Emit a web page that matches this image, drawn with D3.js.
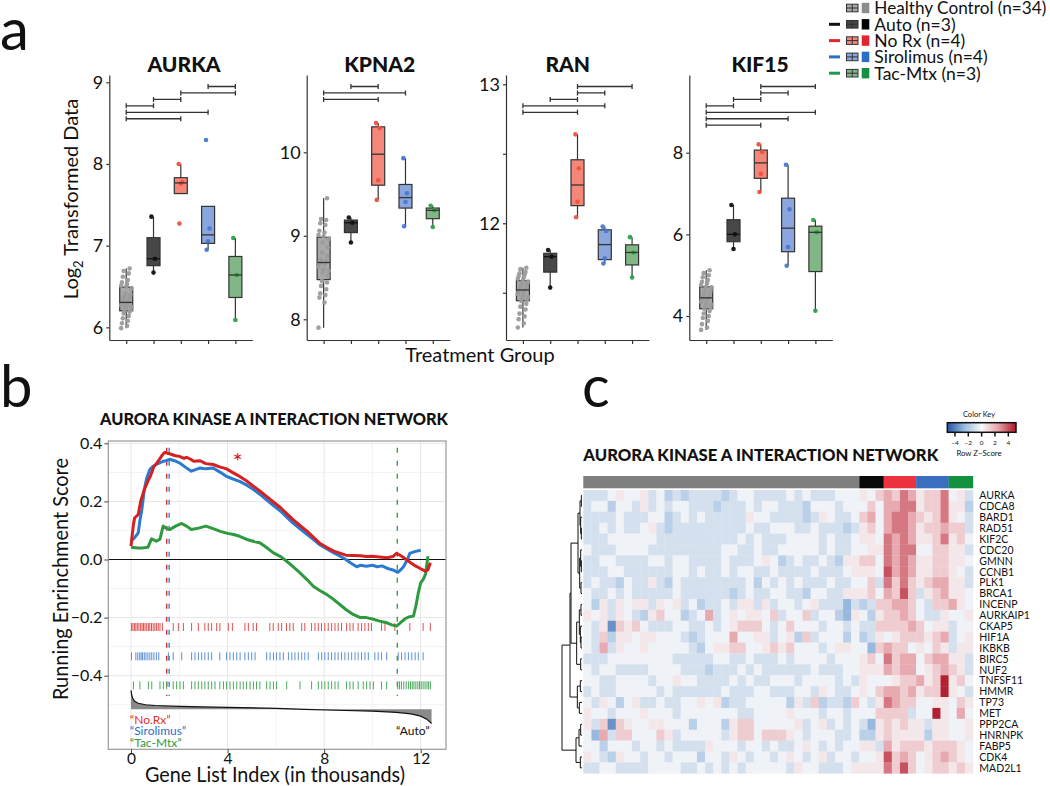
<!DOCTYPE html>
<html><head><meta charset="utf-8">
<script src="https://cdn.jsdelivr.net/npm/d3@7"></script>
<style>
body{margin:0;background:#fff}
svg{display:block}
text{font-family:Lato,"Open Sans",sans-serif;fill:#111}
</style>
</head><body>
<svg id="chart" width="1050" height="786"></svg>
<script>
// ================= DATA =================
const groups = ["Healthy Control", "Auto", "No Rx", "Sirolimus", "Tac-Mtx"];
const groupN = [34, 3, 4, 4, 3];
const genes = ["AURKA", "KPNA2", "RAN", "KIF15"];

// Panel a: log2 values per group [HC, Auto, NoRx, Sirolimus, Tac-Mtx]
const aurkaValues = [
  [5.99,6.02,6.05,6.08,6.11,6.14,6.17,6.19,6.20,6.21,6.23,6.25,6.26,6.27,6.28,6.29,6.30,6.31,6.33,6.35,6.37,6.38,6.40,6.42,6.47,6.50,6.51,6.53,6.55,6.58,6.62,6.66,6.69,6.72],
  [7.355,6.84,6.67],
  [8.0,7.776,7.76,7.27],
  [8.294,7.21,7.054,6.95],
  [7.094,6.641,6.09]
];
const kpna2Values = [
  [7.90,8.20,8.26,8.29,8.31,8.36,8.40,8.44,8.46,8.52,8.56,8.58,8.60,8.63,8.66,8.67,8.68,8.68,8.70,8.72,8.76,8.80,8.86,8.92,8.96,8.99,9.01,9.04,9.06,9.13,9.15,9.19,9.20,9.45],
  [9.22,9.157,8.92],
  [10.35,10.29,9.665,9.43],
  [9.93,9.51,9.405,9.114],
  [9.36,9.305,9.105]
];
const ranValues = [
  [11.25,11.28,11.31,11.33,11.35,11.38,11.40,11.42,11.44,11.45,11.46,11.47,11.48,11.49,11.50,11.51,11.52,11.52,11.53,11.54,11.55,11.56,11.57,11.57,11.58,11.59,11.60,11.61,11.62,11.63,11.64,11.65,11.67,11.68],
  [11.808,11.76,11.537],
  [12.64,12.396,12.155,12.043],
  [11.976,11.945,11.748,11.71],
  [11.9,11.79,11.61]
];
const kif15Values = [
  [3.66,3.72,3.80,3.88,3.95,4.00,4.06,4.12,4.17,4.20,4.24,4.28,4.31,4.35,4.39,4.42,4.44,4.45,4.48,4.51,4.55,4.58,4.62,4.66,4.70,4.72,4.76,4.80,4.84,4.88,4.95,5.00,5.05,5.12],
  [6.718,6.0,5.64],
  [8.205,8.017,7.485,7.037],
  [7.706,6.613,5.69,5.23],
  [6.35,6.05,4.127]
];
// significance brackets (group index pairs, listed top to bottom)
const aurkaBrackets = [[3,4],[2,4],[1,2],[0,1],[0,3],[0,2]];
const kpna2Brackets = [[1,2],[0,3],[0,2]];
const ranBrackets = [[2,4],[2,3],[1,2],[0,3],[0,2]];
const kif15Brackets = [[2,4],[2,3],[1,2],[0,1],[0,4],[0,3],[0,2]];
// y tick values
const aurkaTicks = [6,7,8,9];
const kpna2Ticks = [8,9,10];
const ranTicks = [11.5,12,12.5,13];
const kif15Ticks = [4,6,8];
// y axis limits
const aurkaLimits = [5.845, 9.089];
const kpna2Limits = [7.752, 10.926];
const ranLimits = [11.160, 13.067];
const kif15Limits = [3.412, 9.904];

// Panel b: running enrichment score curves [gene index (thousands), ES]
const esNoRx = [[0,0.046],[0.1,0.12],[0.15,0.143],[0.3,0.155],[0.4,0.2],[0.55,0.24],[0.7,0.27],[0.8,0.286],[0.95,0.32],[1.05,0.33],[1.17,0.344],[1.3,0.36],[1.4,0.369],[1.5,0.366],[1.6,0.364],[1.8,0.358],[2.0,0.355],[2.2,0.348],[2.3,0.352],[2.45,0.346],[2.6,0.338],[2.86,0.34],[3.1,0.33],[3.4,0.327],[3.7,0.318],[3.96,0.312],[4.2,0.3],[4.5,0.286],[4.8,0.27],[5.07,0.252],[5.35,0.235],[5.6,0.218],[5.9,0.198],[6.2,0.178],[6.45,0.158],[6.7,0.138],[7.0,0.117],[7.3,0.097],[7.55,0.077],[7.8,0.057],[8.1,0.042],[8.4,0.029],[8.65,0.022],[8.9,0.015],[9.2,0.014],[9.5,0.013],[9.75,0.01],[10.0,0.011],[10.3,0.009],[10.6,0.006],[10.85,0.01],[11.0,0.021],[11.2,0.012],[11.4,0.0],[11.6,-0.012],[11.8,-0.023],[12.0,-0.032],[12.2,-0.04],[12.3,-0.035],[12.4,-0.011]];
const esSirolimus = [[0,0.063],[0.15,0.075],[0.3,0.092],[0.38,0.14],[0.45,0.172],[0.55,0.24],[0.65,0.28],[0.78,0.31],[0.9,0.32],[1.05,0.327],[1.2,0.333],[1.33,0.338],[1.45,0.34],[1.6,0.345],[1.8,0.34],[2.0,0.333],[2.25,0.318],[2.5,0.304],[2.7,0.31],[2.86,0.315],[3.1,0.312],[3.4,0.315],[3.7,0.3],[3.96,0.286],[4.2,0.278],[4.5,0.269],[4.8,0.256],[5.07,0.241],[5.35,0.224],[5.6,0.206],[5.9,0.186],[6.2,0.166],[6.45,0.146],[6.7,0.126],[7.0,0.106],[7.3,0.086],[7.55,0.069],[7.8,0.052],[8.1,0.037],[8.4,0.023],[8.65,0.012],[8.9,0.0],[9.1,-0.012],[9.35,-0.025],[9.5,-0.02],[9.75,-0.023],[10.0,-0.02],[10.2,-0.025],[10.4,-0.022],[10.6,-0.03],[10.85,-0.036],[11.05,-0.044],[11.2,-0.033],[11.3,-0.023],[11.45,0.0],[11.55,0.021],[11.75,0.027],[12.0,0.032]];
const esTacMtx = [[0,0.042],[0.3,0.04],[0.5,0.04],[0.7,0.042],[0.85,0.071],[1.05,0.063],[1.2,0.07],[1.33,0.115],[1.45,0.108],[1.6,0.103],[1.85,0.115],[2.1,0.124],[2.3,0.115],[2.5,0.103],[2.8,0.108],[3.1,0.115],[3.4,0.106],[3.7,0.097],[4.0,0.09],[4.25,0.086],[4.5,0.08],[4.8,0.069],[5.1,0.062],[5.35,0.057],[5.6,0.042],[5.9,0.023],[6.2,0.01],[6.45,-0.006],[6.7,-0.024],[7.0,-0.046],[7.3,-0.07],[7.55,-0.092],[7.8,-0.106],[8.1,-0.12],[8.4,-0.138],[8.65,-0.155],[8.9,-0.172],[9.2,-0.189],[9.5,-0.2],[9.75,-0.2],[10.0,-0.205],[10.3,-0.212],[10.6,-0.218],[10.8,-0.225],[11.0,-0.229],[11.2,-0.215],[11.35,-0.204],[11.5,-0.198],[11.7,-0.195],[11.8,-0.16],[11.9,-0.115],[12.0,-0.08],[12.1,-0.069],[12.2,-0.05],[12.3,0.011]];
// leading-edge / peak positions (thousands)
const peakNoRx = 1.48, peakSirolimus = 1.58, peakTacMtx = 11.03;
// gene-set hit positions (thousands)
const hitsNoRx = [0.02,0.08,0.14,0.2,0.26,0.33,0.4,0.46,0.52,0.58,0.65,0.72,0.78,0.85,0.92,0.99,1.06,1.13,1.2,1.3,1.75,1.96,2.17,2.51,2.79,3.06,3.2,3.34,3.55,3.68,4.03,4.2,4.72,4.86,5.06,5.2,5.75,5.89,6.1,6.24,6.44,6.58,6.72,7.07,7.2,7.48,7.62,7.76,7.89,8.03,8.17,8.31,8.45,8.58,8.72,8.93,9.07,9.2,9.41,9.55,9.69,9.83,9.96,10.38,10.52,10.93,11.55,12.1,12.4];
const hitsSirolimus = [0.02,0.2,0.28,0.36,0.42,0.48,0.55,0.62,0.7,0.78,0.86,0.95,1.05,1.15,1.55,1.75,2.1,2.51,2.65,2.79,2.93,3.06,3.2,3.34,3.68,3.96,4.1,4.24,4.38,4.52,4.72,4.86,5.0,5.14,5.62,5.76,5.9,6.03,6.17,6.31,6.52,6.66,6.79,6.93,7.07,7.2,7.34,7.76,7.9,8.03,8.17,8.31,8.45,8.58,8.72,8.86,9.0,9.14,9.28,9.41,9.55,9.69,9.83,10.1,10.24,10.38,10.59,11.07,11.21,11.35,11.49,11.63,11.77,11.9,12.1];
const hitsTacMtx = [0.1,0.37,0.72,0.86,1.2,1.34,1.48,1.75,1.89,2.03,2.17,2.51,2.65,2.79,2.93,3.06,3.2,3.34,3.48,3.68,3.83,3.96,4.1,4.24,4.38,4.52,4.65,4.79,4.93,5.07,5.2,5.34,5.62,5.76,5.9,6.03,6.45,7.0,7.48,7.76,7.9,8.03,8.17,8.31,8.45,8.58,8.93,9.07,9.2,9.41,9.62,9.76,9.9,10.04,10.38,10.59,11.05,11.12,11.2,11.3,11.4,11.5,11.58,11.65,11.72,11.8,11.88,11.95,12.02,12.1,12.18,12.26,12.33,12.4];
// ranked list metric (relative units)
const rankedMetric = [[0,1.0],[0.03,0.75],[0.08,0.55],[0.15,0.42],[0.3,0.32],[0.6,0.24],[1,0.2],[2,0.15],[4,0.1],[6,0.05],[7.2,0.0],[8.5,-0.05],[10,-0.1],[11,-0.16],[11.6,-0.24],[12,-0.36],[12.25,-0.52],[12.45,-0.75]];
const esTicks = [-0.4,-0.2,0,0.2,0.4];
const indexTicks = [0,4,8,12];

// Panel c: heatmap, row z-scores coded as levels (0..9, X), columns = 34 HC | 3 Auto | 4 NoRx | 4 Sirolimus | 3 Tac-Mtx
const heatGenes = ["AURKA","CDCA8","BARD1","RAD51","KIF2C","CDC20","GMNN","CCNB1","PLK1","BRCA1","INCENP","AURKAIP1","CKAP5","HIF1A","IKBKB","BIRC5","NUF2","TNFSF11","HMMR","TP73","MET","PPP2CA","HNRNPK","FABP5","CDK4","MAD2L1"];
const zLevels = {"0":-3.6,"1":-2.6,"2":-1.7,"3":-1.0,"4":-0.25,"5":0.5,"6":1.3,"7":2.3,"8":3.3,"9":4.0,"X":4.9};
const heatRows = [
 "3334544534 2323333234 4333343433 3444|546|7687|5668|453",
 "3442443534 3443332333 4344333244 4344|464|7788|5668|552",
 "3333433344 2343433333 5443333235 4334|674|7887|6568|543",
 "3343433453 2333333333 4334443343 3323|564|7887|5667|663",
 "3334444443 3333333334 3433344443 4334|554|8787|5568|564",
 "4333444433 3333333443 3433444443 4334|455|8788|4466|553",
 "3344333344 3443333433 3454234334 3255|664|8787|5566|554",
 "3334433333 3443433434 4334333343 3345|554|9787|5566|543",
 "3433243353 2433333333 4243434333 4334|463|8686|5677|553",
 "4334343333 3433333323 4334433244 3355|564|7696|3567|554",
 "4253545535 4534233435 5353443453 3313|236|6776|4366|754",
 "5453543256 4423473454 5546344634 4215|425|6676|4335|445",
 "4350656433 3443343456 6643464443 4434|336|6667|6455|344",
 "4362554554 4432344474 4553452634 4424|235|4566|6567|345",
 "4373544544 4443245566 4456564443 4554|416|7664|5465|355",
 "3334444444 4333334433 4333434444 3444|564|8677|4677|553",
 "4344333344 4433323334 3433333343 3344|555|7677|4567|653",
 "4433444434 4544333343 4334443444 4343|544|4566|756X|564",
 "3433444443 4333333433 3443334435 4334|546|7767|566X|543",
 "4354245334 3344545233 4444425362 3326|435|8766|4455|465",
 "5443444544 4344444443 3444454443 4434|446|6663|44X5|474",
 "5360654455 4442444256 6444445345 3434|315|6565|5355|445",
 "4173664446 5344444356 6466654344 4334|225|6555|5255|445",
 "4424443443 4333354443 4434334543 4344|553|7566|6566|654",
 "5432544344 3444244354 3443454345 3443|445|9676|4567|654",
 "3344333344 4433434343 4444435443 3345|555|8696|4566|565"
];
// row dendrogram: [height, left, right], leaves = row index
const rowTree = [6.0,
  [3.6,
    [3.3,
      [1.2, [0.6,[0.2,0,1],[0.4,2,[0.2,3,4]]], [0.7,[0.4,5,[0.2,6,7]],[0.3,8,9]]],
      [1.6, [0.8,[0.3,10,11],[0.5,12,[0.3,13,14]]], [0.4,15,16]]],
    [1.4, [0.5,17,18], [0.8,19,20]]],
  [1.8, [0.9,[0.4,21,22],23], [0.5,24,25]]];
const keyTicks = [-4,-2,0,2,4];

// ================= STYLE / LAYOUT =================
const boxFill = ["#a9a9a9","#474747","#f4867a","#8aa6dd","#80b784"];
const pointCol = ["#9b9b9b","#111111","#f0503f","#4a78d0","#2f9f49"];
const legendLine = [null,"#111111","#e02a2a","#2a72c8","#1f9a4a"];
const legendSquare = ["#8c8c8c","#000000","#e32530","#2a6fc6","#159040"];
const barColors = ["#7f7f7f","#0a0a0a","#ee3340","#3a6fc0","#14913e"];

const svg = d3.select("#chart");

// ---------- Panel labels ----------
svg.append("text").attr("x",0).attr("y",50).attr("font-size",58).text("a");
svg.append("text").attr("x",0).attr("y",407).attr("font-size",58).text("b");
svg.append("text").attr("x",582).attr("y",407).attr("font-size",58).text("c");

// ---------- Panel a ----------
const aLayout = [
  {left:109.3, titleX:184},
  {left:306.7, titleX:379.7},
  {left:506, titleX:567.7},
  {left:689.3, titleX:760}
];
const allValues = [aurkaValues,kpna2Values,ranValues,kif15Values];
const allBrackets = [aurkaBrackets,kpna2Brackets,ranBrackets,kif15Brackets];
const allTicks = [aurkaTicks,kpna2Ticks,ranTicks,kif15Ticks];
const allLimits = [aurkaLimits,kpna2Limits,ranLimits,kif15Limits];
const aBottom = 340, aTop = 75, aWidth = 143;

genes.forEach((gene, gi) => {
  const L = aLayout[gi].left;
  const x = d3.scalePoint().domain(d3.range(groups.length)).range([L, L + aWidth]).padding(0.62);
  const y = d3.scaleLinear().domain(allLimits[gi]).range([aBottom, aTop]);
  const g = svg.append("g");

  g.append("text").attr("x", aLayout[gi].titleX).attr("y", 71.5).attr("text-anchor","middle")
    .attr("font-size",21).attr("font-weight",900).text(gene);

  const yAx = g.append("g").attr("transform",`translate(${L},0)`)
    .call(d3.axisLeft(y).tickValues(allTicks[gi]).tickSize(3).tickSizeOuter(0).tickPadding(3)
      .tickFormat(d => Number.isInteger(d) ? d : ""));
  yAx.selectAll("text").attr("font-size",18).attr("font-family","Lato, sans-serif").attr("fill","#111");
  yAx.selectAll("line,path").attr("stroke","#333").attr("stroke-width",1.2);

  const xAx = g.append("g").attr("transform",`translate(0,${aBottom})`)
    .call(d3.axisBottom(x).tickSize(4).tickSizeOuter(0).tickFormat(""));
  xAx.selectAll("line,path").attr("stroke","#333").attr("stroke-width",1.2);

  allValues[gi].forEach((vals, k) => {
    const s = vals.slice().sort(d3.ascending);
    const q1 = d3.quantile(s,0.25), md = d3.quantile(s,0.5), q3 = d3.quantile(s,0.75), iqr = q3 - q1;
    const lo = d3.min(s.filter(v => v >= q1 - 1.5*iqr));
    const hi = d3.max(s.filter(v => v <= q3 + 1.5*iqr));
    const cx = x(k), bw = 13;
    const wcol = "#333";
    if (hi > q3) g.append("line").attr("x1",cx).attr("x2",cx).attr("y1",y(hi)).attr("y2",y(q3)).attr("stroke",wcol).attr("stroke-width",1.2);
    if (lo < q1) g.append("line").attr("x1",cx).attr("x2",cx).attr("y1",y(q1)).attr("y2",y(lo)).attr("stroke",wcol).attr("stroke-width",1.2);
    g.append("rect").attr("x",cx-bw/2).attr("y",y(q3)).attr("width",bw).attr("height",y(q1)-y(q3))
      .attr("fill",boxFill[k]).attr("stroke","#333").attr("stroke-width",1.2);
    const n = vals.length;
    g.selectAll(null).data(vals).join("circle")
      .attr("cx",(d,i) => cx + (n > 10 ? (((i*7)%13) - 6)*0.85 : (((i*5)%7) - 3)*0.7))
      .attr("cy",d => y(d)).attr("r",2.3).attr("fill",pointCol[k]).attr("opacity",0.95);
    g.append("line").attr("x1",cx-bw/2).attr("x2",cx+bw/2).attr("y1",y(md)).attr("y2",y(md))
      .attr("stroke",k===1?"#111":"#333").attr("stroke-width",1.3);
  });

  allBrackets[gi].forEach((b, j) => {
    const yb = 86.5 + j*6.45;
    const x1 = x(b[0]), x2 = x(b[1]);
    g.append("path").attr("d",`M${x1},${yb-2.5}V${yb+2.5}M${x1},${yb}H${x2}M${x2},${yb-2.5}V${yb+2.5}`)
      .attr("stroke","#333").attr("stroke-width",1.3).attr("fill","none");
  });
});

// y label with subscript
const ylab = svg.append("text").attr("transform","translate(78,199) rotate(-90)").attr("text-anchor","middle").attr("font-size",20);
ylab.append("tspan").text("Log");
ylab.append("tspan").attr("font-size",13).attr("dy",5).text("2");
ylab.append("tspan").attr("dy",-5).text(" Transformed Data");
svg.append("text").attr("x",480).attr("y",362).attr("text-anchor","middle").attr("font-size",20).text("Treatment Group");

// legend
const leg = svg.append("g");
groups.forEach((gname,i) => {
  const cy = 8 + i*16.3;
  if (legendLine[i]) leg.append("line").attr("x1",829).attr("x2",840).attr("y1",cy).attr("y2",cy).attr("stroke",legendLine[i]).attr("stroke-width",3);
  leg.append("rect").attr("x",846.5).attr("y",cy-3.8).attr("width",11.5).attr("height",7.6).attr("fill",boxFill[i]).attr("stroke","#333").attr("stroke-width",1);
  leg.append("path").attr("d",`M846.5,${cy}H858M852.25,${cy-3.8}V${cy+3.8}`).attr("stroke","#333").attr("stroke-width",1);
  leg.append("rect").attr("x",861.7).attr("y",cy-5.2).attr("width",7.6).attr("height",10.4).attr("fill",legendSquare[i]);
  const t = leg.append("text").attr("x",874.3).attr("y",cy).attr("dy","0.36em").attr("font-size",17.5).text(`${gname} (n=${groupN[i]})`);
  if (i === 0) t.attr("textLength",172).attr("lengthAdjust","spacingAndGlyphs");
});

// ---------- Panel b ----------
const bx = d3.scaleLinear().domain([0,12]).range([131,420.7]);
const by = d3.scaleLinear().domain([-0.4,0.4]).range([675.7,443.3]);
const pb = {x0:108.3, x1:446, y0:441, y1:749.3};
const gb = svg.append("g");
gb.append("text").attr("x",274).attr("y",425).attr("text-anchor","middle").attr("font-size",16).attr("font-weight",900)
  .attr("textLength",348).attr("lengthAdjust","spacingAndGlyphs").text("AURORA KINASE A INTERACTION NETWORK");
// grid
[2,6,10].forEach(v => gb.append("line").attr("x1",bx(v)).attr("x2",bx(v)).attr("y1",pb.y0).attr("y2",pb.y1).attr("stroke","#f3f3f3"));
[-0.5,-0.3,-0.1,0.1,0.3].forEach(v => gb.append("line").attr("x1",pb.x0).attr("x2",pb.x1).attr("y1",by(v)).attr("y2",by(v)).attr("stroke","#f3f3f3"));
indexTicks.forEach(v => gb.append("line").attr("x1",bx(v)).attr("x2",bx(v)).attr("y1",pb.y0).attr("y2",pb.y1).attr("stroke","#e6e6e6"));
esTicks.forEach(v => gb.append("line").attr("x1",pb.x0).attr("x2",pb.x1).attr("y1",by(v)).attr("y2",by(v)).attr("stroke","#e6e6e6"));
gb.append("line").attr("x1",pb.x0).attr("x2",pb.x1).attr("y1",by(0)).attr("y2",by(0)).attr("stroke","#111").attr("stroke-width",1.2);

// dashed peaks
[[peakNoRx,"#d62020"],[peakSirolimus,"#2a7ad0"],[peakTacMtx,"#2e9a40"]].forEach(([v,c]) => {
  gb.append("line").attr("x1",bx(v)).attr("x2",bx(v)).attr("y1",by(0.385)).attr("y2",by(-0.47))
    .attr("stroke",c).attr("stroke-width",1.3).attr("stroke-dasharray","5,8");
});
// hits
[[hitsNoRx,"#e05050",627],[hitsSirolimus,"#5a8fd8",656.3],[hitsTacMtx,"#4aaa5c",685.3]].forEach(([arr,c,yc]) => {
  gb.selectAll(null).data(arr).join("line").attr("x1",d=>bx(d)).attr("x2",d=>bx(d))
    .attr("y1",yc-4).attr("y2",yc+4).attr("stroke",c).attr("stroke-width",1);
});
// ranked metric
const mY = d3.scaleLinear().domain([-1,1]).range([728.3,690.3]);
gb.append("path").datum(rankedMetric)
  .attr("d",d3.area().x(d=>bx(d[0])).y0(mY(0)).y1(d=>mY(d[1])))
  .attr("fill","#8a8a8a");
gb.append("path").datum(rankedMetric)
  .attr("d",d3.line().x(d=>bx(d[0])).y(d=>mY(d[1])))
  .attr("fill","none").attr("stroke","#111").attr("stroke-width",1.2);
// ES curves
const esLine = d3.line().x(d=>bx(d[0])).y(d=>by(d[1]));
[[esTacMtx,"#2e9a40"],[esSirolimus,"#2a7ad0"],[esNoRx,"#d62020"]].forEach(([arr,c]) => {
  gb.append("path").datum(arr).attr("d",esLine).attr("fill","none").attr("stroke",c).attr("stroke-width",3).attr("stroke-linejoin","round");
});
gb.append("text").attr("x",237.7).attr("y",470).attr("text-anchor","middle").attr("font-size",24).style("fill","#d62020").text("*");
// border
gb.append("rect").attr("x",pb.x0).attr("y",pb.y0).attr("width",pb.x1-pb.x0).attr("height",pb.y1-pb.y0)
  .attr("fill","none").attr("stroke","#999").attr("stroke-width",1.2);
// axes
const byAx = gb.append("g").attr("transform",`translate(${pb.x0},0)`)
  .call(d3.axisLeft(by).tickValues(esTicks).tickSize(4).tickPadding(2).tickFormat(d3.format(".1f")));
byAx.select(".domain").remove();
byAx.selectAll("text").attr("font-size",16).attr("font-family","Lato, sans-serif").attr("fill","#111");
byAx.selectAll("line").attr("stroke","#444");
const bxAx = gb.append("g").attr("transform",`translate(0,${pb.y1})`)
  .call(d3.axisBottom(bx).tickValues(indexTicks).tickSize(4).tickPadding(0));
bxAx.select(".domain").remove();
bxAx.selectAll("text").attr("font-size",15.5).attr("font-family","Lato, sans-serif").attr("fill","#111");
bxAx.selectAll("line").attr("stroke","#444");
// labels in panel
gb.append("text").attr("x",bx(-0.05)).attr("y",723.5).attr("font-size",12).style("fill","#e0302a").text("\u201CNo.Rx\u201D");
gb.append("text").attr("x",bx(-0.05)).attr("y",735.3).attr("font-size",12).style("fill","#2a6fc9").text("\u201CSirolimus\u201D");
gb.append("text").attr("x",bx(-0.05)).attr("y",747).attr("font-size",12).style("fill","#2e9a40").text("\u201CTac-Mtx\u201D");
gb.append("text").attr("x",bx(12.37)).attr("y",735.3).attr("text-anchor","end").attr("font-size",12).text("\u201CAuto\u201D");
// axis titles
gb.append("text").attr("transform","translate(68,579) rotate(-90)").attr("text-anchor","middle").attr("font-size",22)
  .attr("textLength",242).attr("lengthAdjust","spacingAndGlyphs").text("Running Enrinchment Score");
gb.append("text").attr("x",275).attr("y",782).attr("text-anchor","middle").attr("font-size",20.5)
  .attr("textLength",260).attr("lengthAdjust","spacingAndGlyphs").text("Gene List Index (in thousands)");

// ---------- Panel c ----------
const gc = svg.append("g");
const hx0 = 583.3, hx1 = 973, hy0 = 490, hy1 = 773.3;
const nCols = d3.sum(groupN);
const cx = d3.scaleBand().domain(d3.range(nCols)).range([hx0,hx1]);
const ry = d3.scaleBand().domain(d3.range(heatGenes.length)).range([hy0,hy1]);
const colorZ = d3.scaleLinear().domain([-5,-2.5,0,2.5,5]).range(["#2a5aa8","#9dbde0","#f8f8f8","#e6a3ab","#b01c2c"]).clamp(true);
const cells = [];
heatRows.forEach((str, r) => {
  const codes = str.replace(/[ |]/g,"").split("");
  codes.slice(0,nCols).forEach((ch, c) => cells.push({r, c, z: zLevels[ch]}));
});
gc.selectAll("rect.cell").data(cells).join("rect").attr("class","cell")
  .attr("x",d=>cx(d.c)).attr("y",d=>ry(d.r)).attr("width",cx.bandwidth()+0.3).attr("height",ry.bandwidth()+0.3)
  .attr("fill",d=>colorZ(d.z));
// column color bar
let start = 0;
groupN.forEach((n,i) => {
  gc.append("rect").attr("x",cx(start)).attr("y",476).attr("width",cx.bandwidth()*n+0.2).attr("height",12.3).attr("fill",barColors[i]);
  start += n;
});
// row labels
gc.selectAll("text.rl").data(heatGenes).join("text").attr("class","rl")
  .attr("x",979.3).attr("y",(d,i)=>ry(i)+ry.bandwidth()/2).attr("dy","0.36em").attr("font-size",10.5).text(d=>d);
// dendrogram
const dx = d3.scaleLinear().domain([0,6]).range([582,562]);
function drawNode(n){
  if (typeof n === "number") return {x: dx(0), y: ry(n) + ry.bandwidth()/2};
  const a = drawNode(n[1]), b = drawNode(n[2]);
  const xx = dx(n[0]);
  gc.append("path").attr("d",`M${a.x},${a.y}H${xx}V${b.y}H${b.x}`).attr("fill","none").attr("stroke","#111").attr("stroke-width",1);
  return {x: xx, y: (a.y + b.y)/2};
}
drawNode(rowTree);
// title
gc.append("text").attr("x",583.3).attr("y",461).attr("font-size",17.5).attr("font-weight",900)
  .attr("textLength",355).attr("lengthAdjust","spacingAndGlyphs").text("AURORA KINASE A INTERACTION NETWORK");
// color key
const kx = d3.scaleLinear().domain([-5.15,5.15]).range([947.3,1016]);
const defs = svg.append("defs");
const grad = defs.append("linearGradient").attr("id","kgrad").attr("x1","0%").attr("x2","100%");
d3.range(0,1.0001,0.05).forEach(t => grad.append("stop").attr("offset",`${t*100}%`).attr("stop-color",colorZ(-5.15 + t*10.3)));
gc.append("rect").attr("x",kx(-5.15)).attr("y",422.7).attr("width",kx(5.15)-kx(-5.15)).attr("height",9.6)
  .attr("fill","url(#kgrad)").attr("stroke","#111").attr("stroke-width",1.5);
keyTicks.forEach(t => {
  gc.append("line").attr("x1",kx(t)).attr("x2",kx(t)).attr("y1",432.3).attr("y2",436.5).attr("stroke","#111").attr("stroke-width",1.5);
  gc.append("text").attr("x",kx(t)).attr("y",445).attr("text-anchor","middle").attr("font-size",6.5).text(d3.format("")(t));
});
gc.append("text").attr("x",979).attr("y",417.3).attr("text-anchor","middle").attr("font-size",7.5).text("Color Key");
gc.append("text").attr("x",979).attr("y",455.7).attr("text-anchor","middle").attr("font-size",7.8).text("Row Z\u2212Score");
</script>
</body></html>
